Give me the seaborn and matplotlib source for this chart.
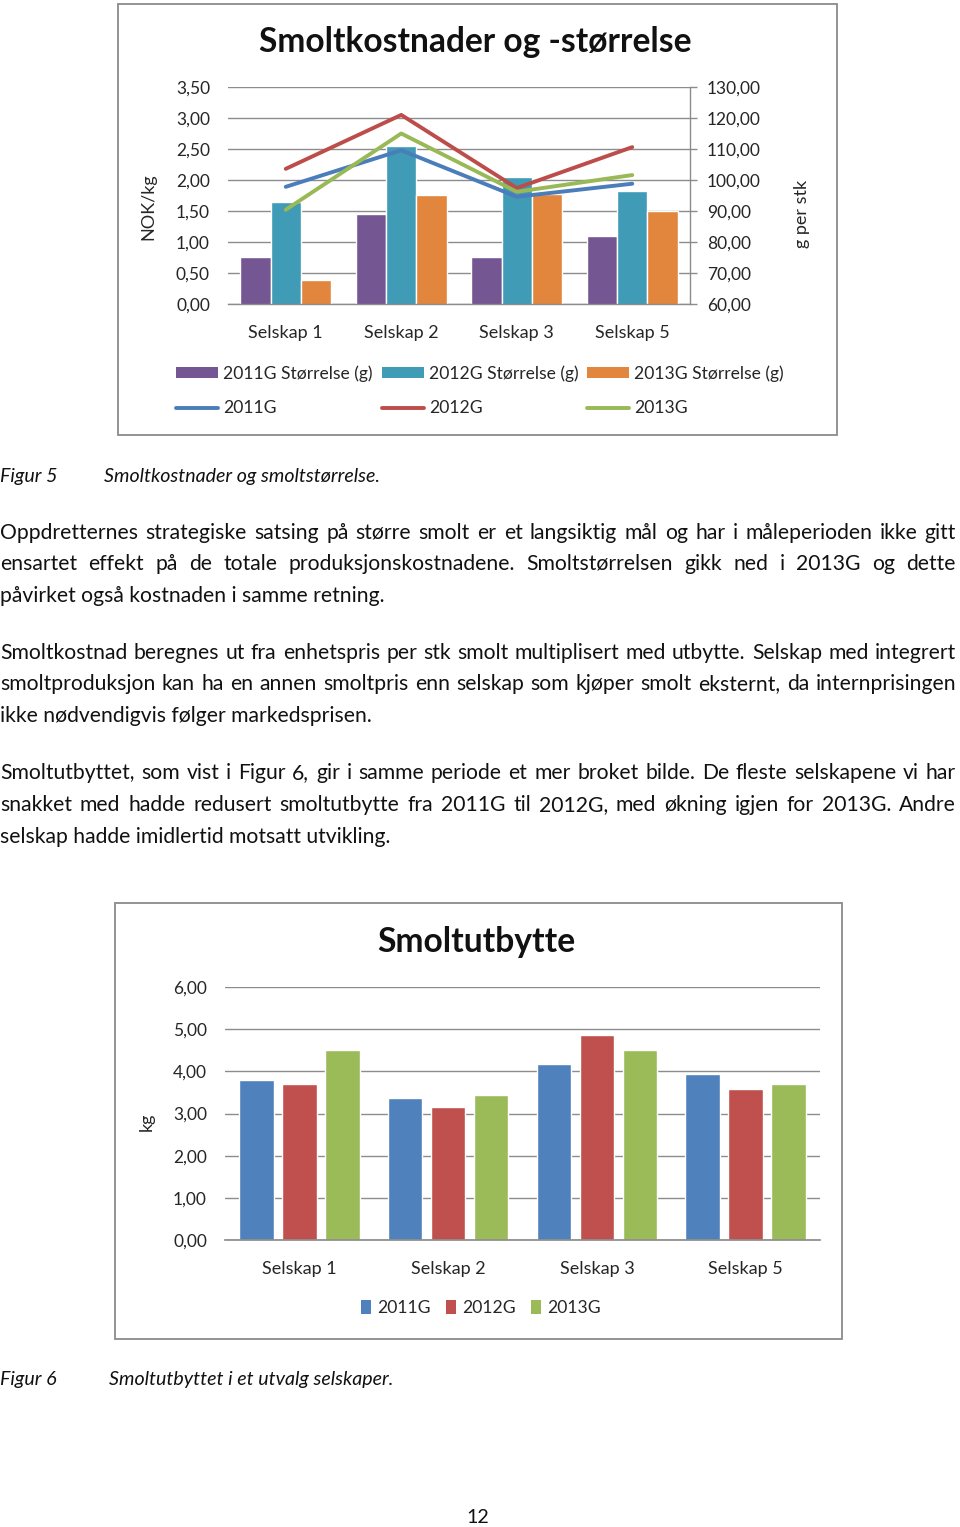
import numpy as np
import pandas as pd
import matplotlib
matplotlib.use("Agg")
import matplotlib.pyplot as plt
import seaborn as sns
from matplotlib.patches import Rectangle, Patch
from matplotlib.lines import Line2D
from matplotlib.ticker import FuncFormatter

# ---------------- data ----------------
companies = ["Selskap 1", "Selskap 2", "Selskap 3", "Selskap 5"]
size_labels = ["2011G Størrelse (g)", "2012G Størrelse (g)", "2013G Størrelse (g)"]
years = ["2011G", "2012G", "2013G"]

size_2011 = [75.2, 88.9, 75.2, 82.0]
size_2012 = [93.0, 111.0, 100.9, 96.6]
size_2013 = [67.9, 95.1, 95.6, 90.0]

cost_2011 = [1.89, 2.48, 1.73, 1.94]
cost_2012 = [2.18, 3.05, 1.87, 2.53]
cost_2013 = [1.52, 2.75, 1.81, 2.08]

yield_2011 = [3.80, 3.37, 4.17, 3.94]
yield_2012 = [3.70, 3.16, 4.85, 3.59]
yield_2013 = [4.50, 3.44, 4.50, 3.70]

title1 = "Smoltkostnader og -størrelse"
title2 = "Smoltutbytte"
cap1 = ("Figur 5", "Smoltkostnader og smoltstørrelse.")
cap2 = ("Figur 6", "Smoltutbyttet i et utvalg selskaper.")

paragraphs = [
    ["Oppdretternes strategiske satsing på større smolt er et langsiktig mål og har i måleperioden ikke gitt",
     "ensartet effekt på de totale produksjonskostnadene. Smoltstørrelsen gikk ned i 2013G og dette",
     "påvirket også kostnaden i samme retning."],
    ["Smoltkostnad beregnes ut fra enhetspris per stk smolt multiplisert med utbytte. Selskap med integrert",
     "smoltproduksjon kan ha en annen smoltpris enn selskap som kjøper smolt eksternt, da internprisingen",
     "ikke nødvendigvis følger markedsprisen."],
    ["Smoltutbyttet, som vist i Figur 6, gir i samme periode et mer broket bilde. De fleste selskapene vi har",
     "snakket med hadde redusert smoltutbytte fra 2011G til 2012G, med økning igjen for 2013G. Andre",
     "selskap hadde imidlertid motsatt utvikling."],
]
para_baselines = [[539, 570, 602], [659, 690, 722], [779, 811, 843]]

bar_cols = ["#745692", "#3F9BB6", "#E2863D"]
line_cols = ["#4A7DBA", "#BD4D4A", "#98B955"]
yield_cols = ["#4F81BD", "#C0504D", "#9BBB59"]

# ---------------- setup ----------------
sns.set_theme(style="white")
FONT = ["Lato", "DejaVu Sans"]
plt.rcParams['font.family'] = FONT

W, H = 960, 1527
fig = plt.figure(figsize=(W / 100, H / 100), dpi=100)
fig.patch.set_facecolor("white")
renderer = fig.canvas.get_renderer()


def rect(x0, y0, x1, y1):
    return [x0 / W, 1 - y1 / H, (x1 - x0) / W, (y1 - y0) / H]


def fx(x):
    return x / W


def fy(y):
    return 1 - y / H


def text_width(s, fs, **kw):
    t = fig.text(0, 0, s, fontsize=fs, **kw)
    w = t.get_window_extent(renderer).width
    t.remove()
    return w


def fit_fs(s, target, fs0=12, **kw):
    return fs0 * target / text_width(s, fs0, **kw)


comma = FuncFormatter(lambda v, p: f"{v:.2f}".replace(".", ","))
TXT = "#262626"
GRID = "#8C8C8C"
TICK_FS = 12.5
CAT_FS = 13

# ---------------- frames ----------------
for (x0, y0, x1, y1) in [(118, 4, 837, 435), (115, 903, 842, 1339)]:
    fig.add_artist(Rectangle((fx(x0), fy(y1)), (x1 - x0) / W, (y1 - y0) / H,
                             transform=fig.transFigure, fill=False,
                             edgecolor="#8A8A8A", lw=1.3))

# ---------------- chart 1 ----------------
axb = fig.add_axes(rect(228, 87, 690, 304))
df_size = pd.DataFrame({
    "Selskap": companies * 3,
    "Serie": np.repeat(size_labels, len(companies)),
    "g": size_2011 + size_2012 + size_2013,
})
sns.barplot(data=df_size, x="Selskap", y="g", hue="Serie", hue_order=size_labels,
            palette=bar_cols, width=0.79, saturation=1, errorbar=None,
            legend=False, ax=axb, zorder=2)

axl = axb.twinx()
df_cost = pd.DataFrame({
    "Selskap": companies * 3,
    "Serie": np.repeat(years, len(companies)),
    "NOK": cost_2011 + cost_2012 + cost_2013,
})
sns.lineplot(data=df_cost, x="Selskap", y="NOK", hue="Serie", hue_order=years,
             palette=line_cols, linewidth=2.8, errorbar=None, legend=False,
             sort=False, ax=axl)

# bar axis (g per stk) -> right side
axb.set_ylim(60, 130)
axb.set_xlim(-0.5, 3.5)
axb.set_yticks(np.arange(60, 131, 10))
axb.yaxis.set_major_formatter(comma)
axb.yaxis.tick_right()
axb.yaxis.set_label_position("right")
axb.grid(axis="y", color=GRID, lw=1.0)
axb.set_axisbelow(True)
axb.set_xlabel("")
axb.set_ylabel("")
for s in ["top", "left"]:
    axb.spines[s].set_visible(False)
for s in ["right", "bottom"]:
    axb.spines[s].set_visible(True)
    axb.spines[s].set_color(GRID)
    axb.spines[s].set_linewidth(1.0)
axb.tick_params(axis="y", which="both", right=True, left=False, labelright=True,
                labelleft=False, direction="out", length=5, width=1, color=GRID,
                pad=7, labelsize=TICK_FS, labelcolor=TXT)
axb.tick_params(axis="x", length=0, pad=15, labelsize=CAT_FS, labelcolor=TXT)

# line axis (NOK/kg) -> left side
axl.set_xlim(-0.5, 3.5)
axl.set_ylim(0, 3.5)
axl.set_yticks(np.arange(0, 3.51, 0.5))
axl.yaxis.set_major_formatter(comma)
axl.yaxis.tick_left()
axl.tick_params(axis="y", left=False, right=False, labelleft=True, labelright=False,
                length=0, pad=13, labelsize=TICK_FS, labelcolor=TXT)
axl.set_ylabel("")
axl.set_xlabel("")
for s in axl.spines.values():
    s.set_visible(False)

fig.text(fx(148), fy(207), "NOK/kg", rotation=90, ha="center", va="center",
         fontsize=13, color=TXT)
fig.text(fx(802), fy(214), "g per stk", rotation=90, ha="center", va="center",
         fontsize=13, color=TXT)

fs_t1 = fit_fs(title1, 430, weight="bold")
fig.text(fx(475), fy(42), title1, ha="center", va="center", fontsize=fs_t1,
         weight="bold", color="#111111")

handles1 = []
for i in range(3):
    handles1.append(Patch(facecolor=bar_cols[i], edgecolor="none", label=size_labels[i]))
    handles1.append(Line2D([], [], color=line_cols[i], lw=2.8, label=years[i]))
fig.legend(handles=handles1, ncol=3, loc="center", bbox_to_anchor=(fx(480), fy(391)),
           frameon=False, fontsize=12.6, handlelength=2.4, handleheight=0.6,
           handletextpad=0.3, columnspacing=0.5, labelspacing=1.05,
           labelcolor=TXT)

# ---------------- chart 2 ----------------
ax2 = fig.add_axes(rect(225, 987, 820, 1240))
df_yield = pd.DataFrame({
    "Selskap": companies * 3,
    "År": np.repeat(years, len(companies)),
    "kg": yield_2011 + yield_2012 + yield_2013,
})
sns.barplot(data=df_yield, x="Selskap", y="kg", hue="År", hue_order=years,
            palette=yield_cols, width=0.867, gap=0.2, saturation=1, errorbar=None,
            legend=False, ax=ax2, zorder=2)
ax2.set_ylim(0, 6)
ax2.set_xlim(-0.5, 3.5)
ax2.set_yticks(np.arange(0, 6.01, 1))
ax2.yaxis.set_major_formatter(comma)
ax2.grid(axis="y", color=GRID, lw=1.0)
ax2.set_axisbelow(True)
ax2.set_xlabel("")
ax2.set_ylabel("")
for s in ["top", "left", "right"]:
    ax2.spines[s].set_visible(False)
ax2.spines["bottom"].set_color(GRID)
ax2.tick_params(axis="y", length=0, pad=13, labelsize=TICK_FS, labelcolor=TXT)
ax2.tick_params(axis="x", length=0, pad=15, labelsize=CAT_FS, labelcolor=TXT)

fig.text(fx(147), fy(1122), "kg", rotation=90, ha="center", va="center",
         fontsize=13, color=TXT)
fs_t2 = fit_fs(title2, 197, weight="bold")
fig.text(fx(476), fy(942), title2, ha="center", va="center", fontsize=fs_t2,
         weight="bold", color="#111111")

handles2 = [Patch(facecolor=yield_cols[i], edgecolor="none", label=years[i]) for i in range(3)]
fig.legend(handles=handles2, ncol=3, loc="center", bbox_to_anchor=(fx(481), fy(1308)),
           frameon=False, fontsize=12.6, handlelength=0.6, handleheight=0.85,
           handletextpad=0.35, columnspacing=0.85, labelcolor=TXT)

# ---------------- body text ----------------
justified = [line for p in paragraphs for line in p[:-1]]
fs_body = 15
maxw = max(text_width(l, fs_body) for l in justified)
fs_body = fs_body * 948 / maxw
BODY = "#111111"


def draw_line(line, yb, justify):
    if not justify:
        fig.text(0, fy(yb), line, ha="left", va="baseline", fontsize=fs_body, color=BODY)
        return
    words = line.split(" ")
    ws = [text_width(w, fs_body) for w in words]
    gap = (956 - sum(ws)) / (len(words) - 1)
    x = 0.0
    for w, wd in zip(words, ws):
        fig.text(fx(x), fy(yb), w, ha="left", va="baseline", fontsize=fs_body, color=BODY)
        x += wd + gap


for p, bl in zip(paragraphs, para_baselines):
    for i, (line, yb) in enumerate(zip(p, bl)):
        draw_line(line, yb, i < len(p) - 1)

# captions
fig.text(0, fy(482), cap1[0], ha="left", va="baseline", fontsize=fs_body * 0.93,
         style="italic", color=BODY)
fig.text(fx(104), fy(482), cap1[1], ha="left", va="baseline", fontsize=fs_body * 0.93,
         style="italic", color=BODY)
fig.text(0, fy(1385), cap2[0], ha="left", va="baseline", fontsize=fs_body * 0.93,
         style="italic", color=BODY)
fig.text(fx(109), fy(1385), cap2[1], ha="left", va="baseline", fontsize=fs_body * 0.93,
         style="italic", color=BODY)

fig.text(fx(478), fy(1523), "12", ha="center", va="baseline", fontsize=fs_body * 0.93,
         color=BODY)

fig.savefig("out.png", dpi=100, facecolor="white")
